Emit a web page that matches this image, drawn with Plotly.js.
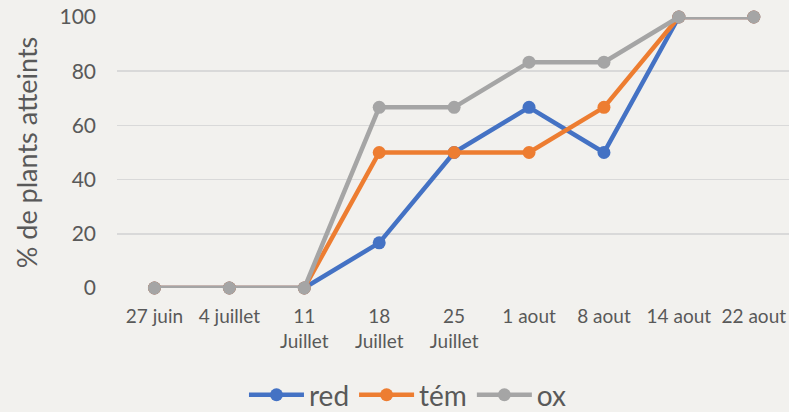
<!DOCTYPE html>
<html><head><meta charset="utf-8">
<script src="https://cdn.plot.ly/plotly-3.0.1.min.js"></script>
<style>html,body{margin:0;padding:0;background:#f2f1ee;}#chart{width:789px;height:412px;}</style>
</head><body><div id="chart"></div>
<script>
const categories = ["27 juin","4 juillet","11<br>Juillet","18<br>Juillet","25<br>Juillet","1 aout","8 aout","14 aout","22 aout"];
const seriesNames = ["red","tém","ox"];
const red = [0,0,0,16.67,50,66.67,50,100,100];
const tem = [0,0,0,50,50,50,66.67,100,100];
const ox  = [0,0,0,66.67,66.67,83.33,83.33,100,100];
const colors = ["#4472C4","#ED7D31","#A5A5A5"];
const yTicks = [0,20,40,60,80,100];

const idx = categories.map((c,i)=>i);
const font = "Lato, 'Noto Sans', sans-serif";
const traces = [red,tem,ox].map((ys,k)=>({
  type:"scatter", mode:"lines+markers", name:seriesNames[k],
  x: idx, y: ys, cliponaxis:false,
  line:{color:colors[k], width:4.5},
  marker:{color:colors[k], size:13}
}));
const layout = {
  width:789, height:412,
  paper_bgcolor:"#f2f1ee", plot_bgcolor:"rgba(0,0,0,0)",
  margin:{l:117, r:0, t:17, b:124, autoexpand:false},
  font:{family:font, color:"#595959"},
  xaxis:{range:[-0.5,8.47], tickmode:"array", tickvals:idx, ticktext:categories,
    showgrid:false, zeroline:false, showline:false, ticks:"", automargin:false,
    ticklabelstandoff:15, ticklabeloverflow:"allow",
    tickfont:{size:19, color:"#595959"}, fixedrange:true},
  yaxis:{range:[0,100], tickvals:yTicks, showgrid:true, gridcolor:"#d9d9d9", gridwidth:1.5,
    zeroline:false, showline:false, ticks:"", ticklen:0, automargin:false,
    ticklabelstandoff:20,
    tickfont:{size:21, color:"#595959"},
    title:{text:"% de plants atteints", font:{size:27, color:"#595959"}, standoff:14}},
  showlegend:true,
  legend:{orientation:"h", x:0.433, xanchor:"center", y:-0.395, yanchor:"middle",
    font:{size:28, color:"#595959"}, bgcolor:"rgba(0,0,0,0)", itemwidth:55, tracegroupgap:0}
};
Plotly.newPlot("chart", traces, layout, {displayModeBar:false, staticPlot:true});
</script></body></html>
